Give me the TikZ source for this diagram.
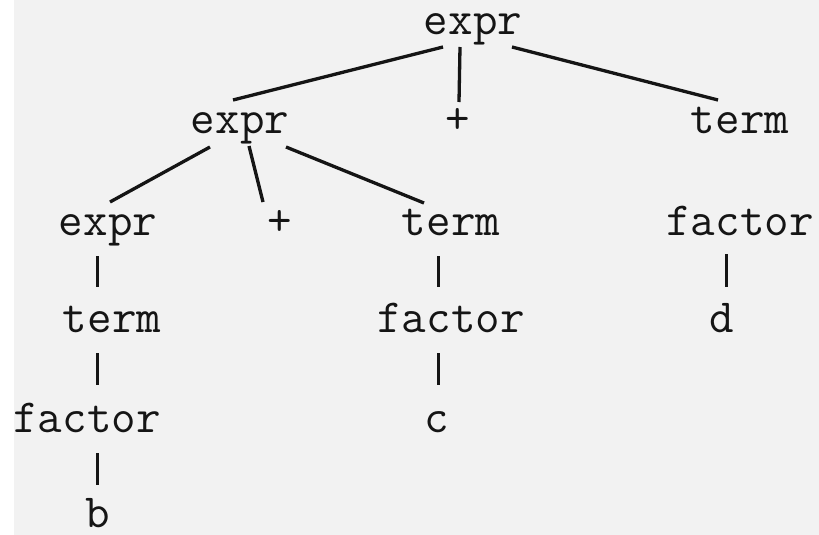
\documentclass[tikz,border=0pt]{standalone}
\usepackage{fontspec}
\usetikzlibrary{calc}
\definecolor{bgc}{HTML}{F2F2F2}
\definecolor{ink}{HTML}{151515}
\tikzset{
  lbl/.style={anchor=base, inner sep=0pt, text=ink, font=\fontsize{47.6}{50}\selectfont\ttfamily},
  edge/.style={draw=ink, line width=3.3pt},
  bar/.style={draw=ink, line width=3pt}
}
\begin{document}
\begin{tikzpicture}[x=1pt, y=-1pt]
\useasboundingbox (0,0) rectangle (819,535);
\fill[white] (0,0) rectangle (819,535);
\fill[bgc] (14,0) rectangle (819,535);
% level 1
\node[lbl] (r1e) at (473,35) {expr};
% level 2
\node[lbl] (r2e) at (240,133) {expr};
\node[lbl] (r2p) at (458,133) {+};
\node[lbl] (r2t) at (740,133) {term};
% level 3
\node[lbl] (r3e) at (108,235) {expr};
\node[lbl] (r3p) at (280,235) {+};
\node[lbl] (r3t) at (451,235) {term};
\node[lbl] (r3f) at (740,235) {factor};
% level 4
\node[lbl] (r4t) at (112,332) {term};
\node[lbl] (r4f) at (451,332) {factor};
\node[lbl] (r4d) at (722,332) {d};
% level 5
\node[lbl] (r5f) at (87,432) {factor};
\node[lbl] (r5c) at (437,432) {c};
% level 6
\node[lbl] (r6b) at (98,527) {b};
% column coordinates for the vertical bars
\coordinate (cL) at (97,0);
\coordinate (cM) at (438,0);
\coordinate (cR) at (726,0);
% edges from level 1
\draw[edge] ($(r1e.base)+(-30,12)$) -- ($(r2e.base)+(-7,-33)$);
\draw[edge] ($(r1e.base)+(-13,12)$) -- ($(r2p.base)+(1,-31)$);
\draw[edge] ($(r1e.base)+(39,12)$) -- ($(r2t.base)+(-22,-33)$);
% edges from level 2
\draw[edge] ($(r2e.base)+(-30,14)$) -- ($(r3e.base)+(2,-33)$);
\draw[edge] ($(r2e.base)+(9,13)$) -- ($(r3p.base)+(-17,-33)$);
\draw[edge] ($(r2e.base)+(46,14)$) -- ($(r3t.base)+(-27,-32)$);
% vertical bars
\draw[bar] ($(r3e.base -| cL)+(0,21)$) -- ($(r4t.base -| cL)+(0,-45)$);
\draw[bar] ($(r4t.base -| cL)+(0,21)$) -- ($(r5f.base -| cL)+(0,-47)$);
\draw[bar] ($(r5f.base -| cL)+(0,21)$) -- ($(r6b.base -| cL)+(0,-42)$);
\draw[bar] ($(r3t.base -| cM)+(0,21)$) -- ($(r4f.base -| cM)+(0,-45)$);
\draw[bar] ($(r4f.base -| cM)+(0,21)$) -- ($(r5c.base -| cM)+(0,-47)$);
\draw[bar] ($(r3f.base -| cR)+(0,19)$) -- ($(r4d.base -| cR)+(0,-45)$);
\end{tikzpicture}
\end{document}
